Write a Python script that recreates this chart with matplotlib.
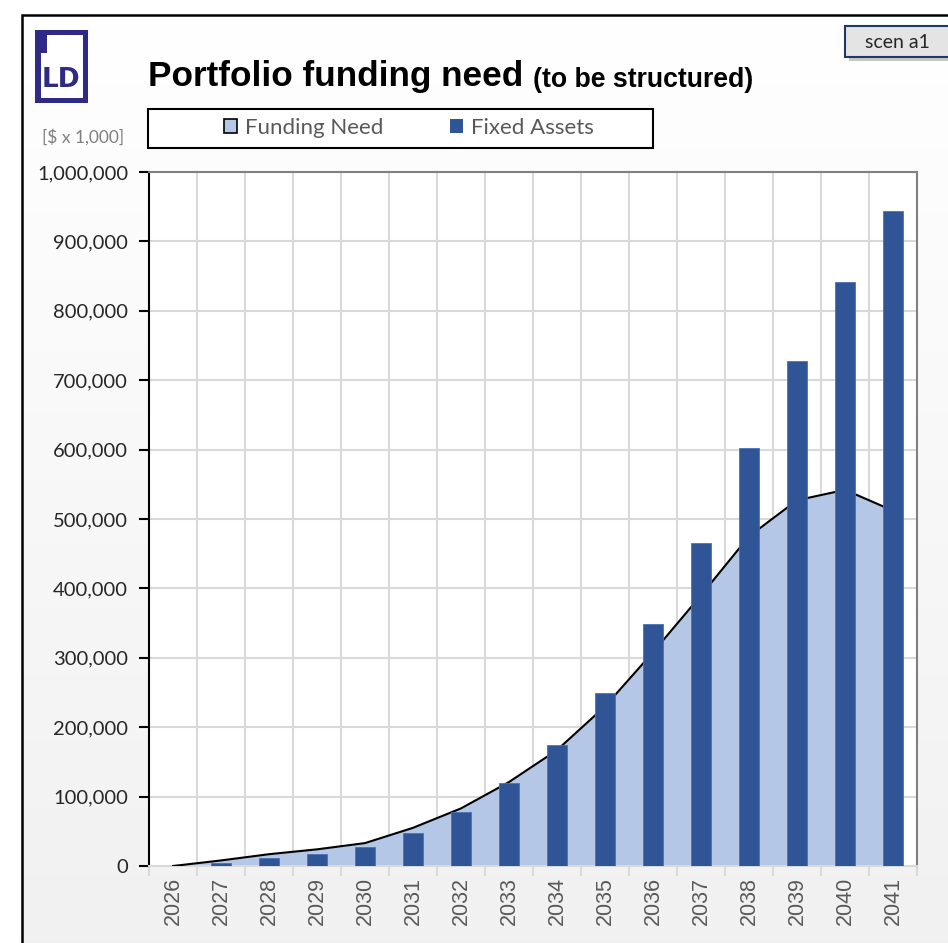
import matplotlib
matplotlib.use("Agg")
import matplotlib.pyplot as plt
import numpy as np
from matplotlib.patches import Rectangle, Patch
from matplotlib.ticker import FuncFormatter, FixedLocator

# ---- data ----
years = ["2026", "2027", "2028", "2029", "2030", "2031", "2032", "2033",
         "2034", "2035", "2036", "2037", "2038", "2039", "2040", "2041"]
funding_need = [0, 8000, 17000, 24000, 33000, 55000, 83000, 121000,
                167000, 230000, 308000, 390000, 475000, 527000, 542000, 512000]
fixed_assets = [0, 5000, 11000, 17000, 27000, 48000, 78000, 119000,
                174000, 250000, 349000, 465000, 602000, 728000, 841000, 944000]
y_ticks = [0, 100000, 200000, 300000, 400000, 500000, 600000, 700000,
           800000, 900000, 1000000]

W, H = 948, 943
fig = plt.figure(figsize=(W / 100, H / 100), dpi=100, facecolor="white")

def fx(px):
    return px / W

def fy(py):
    return 1 - py / H

# ---- gradient background inside frame ----
bg = fig.add_axes([fx(22), 0, 1 - fx(22), fy(15)], zorder=-10)
grad = np.linspace(1.0, 0.0, 256).reshape(-1, 1)
c_top = np.array([1.0, 1.0, 1.0])
c_bot = np.array([0.945, 0.945, 0.945])
img = c_bot[None, None, :] + (c_top - c_bot)[None, None, :] * grad[:, :, None]
bg.imshow(img, aspect="auto", extent=[0, 1, 0, 1])
bg.set_axis_off()

# outer frame
fig.patches.append(Rectangle((fx(22), -0.1), 1.2, fy(15) + 0.1,
                             transform=fig.transFigure, fill=False,
                             edgecolor="black", linewidth=1.8, zorder=5))

# ---- main axes ----
ax = fig.add_axes([fx(149), fy(866), fx(917) - fx(149), fy(172) - fy(866)])
ax.set_facecolor("white")
x = np.arange(len(years))

ax.fill_between(x, funding_need, 0, color="#b4c7e7", zorder=2, linewidth=0)
ax.plot(x, funding_need, color="black", linewidth=1.5, zorder=3)
ax.bar(x, fixed_assets, width=0.4, color="#2f5597", edgecolor="#4a72b8",
       linewidth=0.6, zorder=4)

ax.set_xlim(-0.5, len(years) - 0.5)
ax.set_ylim(0, 1000000)

ax.set_yticks(y_ticks)
ax.yaxis.set_major_formatter(FuncFormatter(lambda v, p: f"{int(v):,}"))
ax.set_xticks(x)
ax.set_xticklabels(years, rotation=90)
ax.xaxis.set_minor_locator(FixedLocator(np.arange(-0.5, len(years), 1.0)))

ax.grid(True, axis="y", which="major", color="#d9d9d9", linewidth=1.5, zorder=0)
ax.grid(True, axis="x", which="minor", color="#d9d9d9", linewidth=1.5, zorder=0)
ax.set_axisbelow(True)

ax.tick_params(axis="y", which="major", direction="out", length=7, width=1.5,
               color="black", pad=8, labelsize=14.5, labelcolor="#262626")
ax.tick_params(axis="x", which="major", length=0, pad=8, labelsize=15.5,
               labelcolor="#595959")
ax.tick_params(axis="x", which="minor", direction="out", length=7, width=1.5,
               color="#d9d9d9")
for lbl in ax.get_yticklabels():
    lbl.set_fontfamily("Lato")
for lbl in ax.get_xticklabels():
    lbl.set_fontfamily("Liberation Sans")

ax.spines["left"].set_color("black")
ax.spines["left"].set_linewidth(1.5)
ax.spines["bottom"].set_color("#d9d9d9")
ax.spines["bottom"].set_linewidth(1.5)
for s in ("top", "right"):
    ax.spines[s].set_color("#808080")
    ax.spines[s].set_linewidth(1.5)

# ---- title ----
t1 = fig.text(fx(148), fy(86), "Portfolio funding need", fontsize=25.3,
              fontweight="bold", family="Liberation Sans", va="baseline",
              ha="left", color="black")
fig.canvas.draw()
ax.annotate("(to be structured)", xy=(1, 0), xycoords=t1,
            xytext=(10, 0), textcoords="offset pixels",
            fontsize=19.2, fontweight="bold", family="Liberation Sans",
            va="bottom", ha="left", color="black", annotation_clip=False)

# ---- logo ----
navy = "#2e2a86"
fig.patches.append(Rectangle((fx(35), fy(103)), fx(88) - fx(35), fy(30) - fy(103),
                             transform=fig.transFigure, facecolor=navy,
                             edgecolor="none", zorder=6))
fig.patches.append(Rectangle((fx(41), fy(98)), fx(83) - fx(41), fy(53) - fy(98),
                             transform=fig.transFigure, facecolor="white",
                             edgecolor="none", zorder=7))
fig.patches.append(Rectangle((fx(47), fy(98)), fx(83) - fx(47), fy(35) - fy(98),
                             transform=fig.transFigure, facecolor="white",
                             edgecolor="none", zorder=7))
fig.text(fx(61), fy(80), "LD", fontsize=19, fontweight="bold", color=navy,
         family="DejaVu Sans", ha="center", va="center", zorder=8)

# ---- scen box ----
fig.patches.append(Rectangle((fx(849), fy(61)), 0.2, fy(29) - fy(61),
                             transform=fig.transFigure, facecolor="#b0b0b0",
                             edgecolor="none", zorder=6, alpha=0.7))
fig.patches.append(Rectangle((fx(845), fy(57)), 0.2, fy(26) - fy(57),
                             transform=fig.transFigure, facecolor="#e4e4e4",
                             edgecolor="#1f3864", linewidth=1.5, zorder=7))
fig.text(fx(897), fy(42), "scen a1", fontsize=14, family="Lato",
         color="#262626", ha="center", va="center", zorder=8)

# ---- unit label ----
fig.text(fx(83), fy(137), "[$ x 1,000]", fontsize=12.5, family="Lato",
         color="#7f7f7f", ha="center", va="center")

# ---- legend ----
fig.patches.append(Rectangle((fx(148), fy(148)), fx(653) - fx(148), fy(109) - fy(148),
                             transform=fig.transFigure, facecolor="white",
                             edgecolor="black", linewidth=1.5, zorder=3))
handles = [Patch(facecolor="#b4c7e7", edgecolor="black", linewidth=1.2),
           Patch(facecolor="#2f5597", edgecolor="none")]
leg = fig.legend(handles, ["Funding Need", "Fixed Assets"], ncol=2,
                 loc="center", bbox_to_anchor=(fx(409), fy(128)),
                 frameon=False, prop={"family": "Lato", "size": 16},
                 handlelength=0.6, handleheight=0.6, handletextpad=0.35,
                 columnspacing=3.0, borderpad=0)
leg.set_zorder(10)
for t in leg.get_texts():
    t.set_color("#595959")

fig.savefig("out.png", dpi=100, facecolor="white")
